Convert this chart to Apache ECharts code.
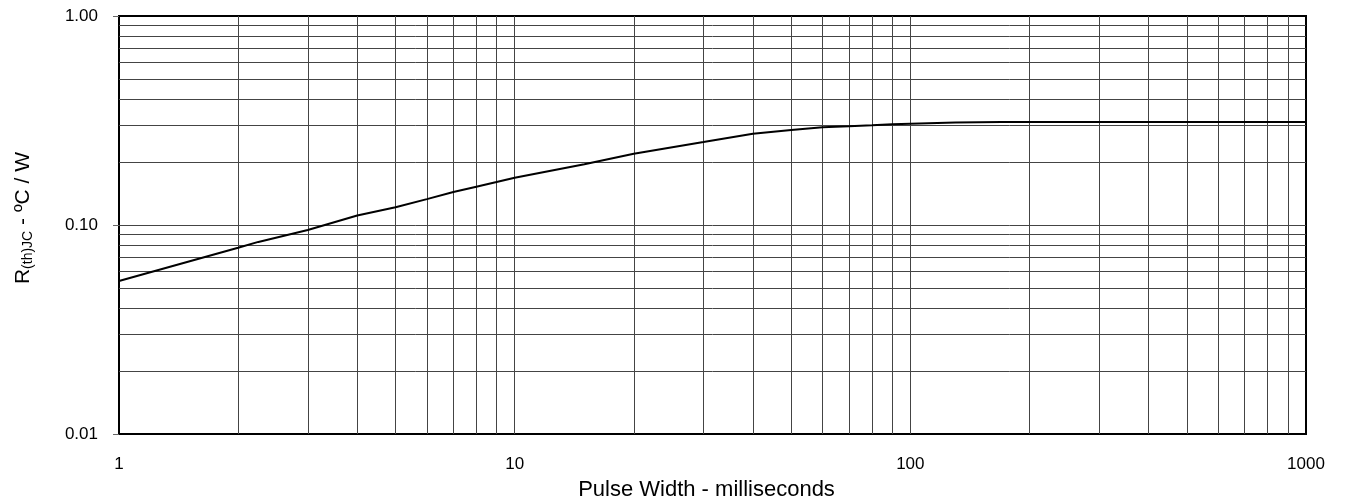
<!DOCTYPE html>
<html>
<head>
<meta charset="utf-8">
<script src="https://cdn.jsdelivr.net/npm/echarts@6/dist/echarts.min.js"></script>
<style>
html,body{margin:0;padding:0;background:#fff;}
#chart{width:1346px;height:504px;}
</style>
</head>
<body>
<div id="chart"></div>
<script>
// Pulse width (ms) and thermal resistance (°C/W)
var pulseWidth = [1, 2, 2.25, 3, 4, 5, 6, 7, 8, 9, 10, 15, 20, 30, 40, 50, 60, 70, 80, 90, 100, 130, 170, 200, 500, 1000];
var rthJC      = [0.054, 0.0778, 0.083, 0.0946, 0.111, 0.1216, 0.133, 0.1438, 0.1525, 0.1606, 0.1684, 0.1955, 0.2193, 0.2494, 0.2735, 0.2847, 0.2935, 0.2965, 0.300, 0.3033, 0.3053, 0.309, 0.311, 0.311, 0.311, 0.311];

var xTickLabels = ['1', '10', '100', '1000'];
var yTickLabels = ['0.01', '0.10', '1.00'];

// gridline positions (log grid, minor + major)
var xGridValues = [2, 3, 4, 5, 6, 7, 8, 9, 10, 20, 30, 40, 50, 60, 70, 80, 90, 100, 200, 300, 400, 500, 600, 700, 800, 900];
var yGridValues = [0.02, 0.03, 0.04, 0.05, 0.06, 0.07, 0.08, 0.09, 0.1, 0.2, 0.3, 0.4, 0.5, 0.6, 0.7, 0.8, 0.9];

var xAxisTitle = 'Pulse Width - milliseconds';

var curve = pulseWidth.map(function (x, i) { return [x, rthJC[i]]; });
var gridMarks = xGridValues.map(function (v) { return { xAxis: v }; })
  .concat(yGridValues.map(function (v) { return { yAxis: v }; }));

var FONT = 'Liberation Sans, Arial, sans-serif';
var chart = echarts.init(document.getElementById('chart'));
chart.setOption({
  animation: false,
  backgroundColor: '#fff',
  grid: { left: 119, right: 40, top: 16, bottom: 70, containLabel: false, outerBoundsMode: 'none', show: true, borderColor: '#000', borderWidth: 2, backgroundColor: 'transparent' },
  xAxis: {
    type: 'log', logBase: 10, min: 1, max: 1000,
    name: xAxisTitle, nameLocation: 'middle', nameGap: 45,
    nameTextStyle: { fontFamily: FONT, fontSize: 22, color: '#000', padding: [0, 12, 0, 0] },
    axisLine: { show: true, lineStyle: { color: '#000', width: 2 } },
    axisTick: { show: false },
    splitLine: { show: false },
    axisLabel: {
      fontFamily: FONT, fontSize: 17, color: '#000', margin: 22,
      formatter: function (v) { return xTickLabels[Math.round(Math.log10(v))]; }
    }
  },
  yAxis: {
    type: 'log', logBase: 10, min: 0.01, max: 1,
    name: '{r|R}{s|(th)JC}{r| - \u00BAC / W}',
    nameLocation: 'middle', nameGap: 84, nameRotate: 90,
    nameTextStyle: {
      fontFamily: FONT, color: '#000', padding: [0, 0, 0, 14],
      rich: {
        r: { fontFamily: FONT, fontSize: 21, color: '#000', lineHeight: 24 },
        s: { fontFamily: FONT, fontSize: 14, color: '#000', lineHeight: 14, verticalAlign: 'bottom' }
      }
    },
    axisLine: { show: true, lineStyle: { color: '#000', width: 2 } },
    axisTick: { show: true, length: 6, lineStyle: { color: '#666', width: 1 } },
    splitLine: { show: false },
    axisLabel: {
      fontFamily: FONT, fontSize: 17, color: '#000', margin: 21,
      formatter: function (v) { return yTickLabels[Math.round(Math.log10(v)) + 2]; }
    }
  },
  series: [
    {
      type: 'line', data: curve, z: 1, silent: true,
      showSymbol: false, lineStyle: { opacity: 0 },
      markLine: {
        silent: true, symbol: ['none', 'none'], animation: false,
        label: { show: false },
        lineStyle: { color: '#444', width: 1, type: 'solid' },
        emphasis: { disabled: true },
        data: gridMarks
      }
    },
    {
      type: 'line', data: curve, z: 5, showSymbol: false, smooth: false,
      lineStyle: { color: '#000', width: 2 }
    }
  ]
});
</script>
</body>
</html>
